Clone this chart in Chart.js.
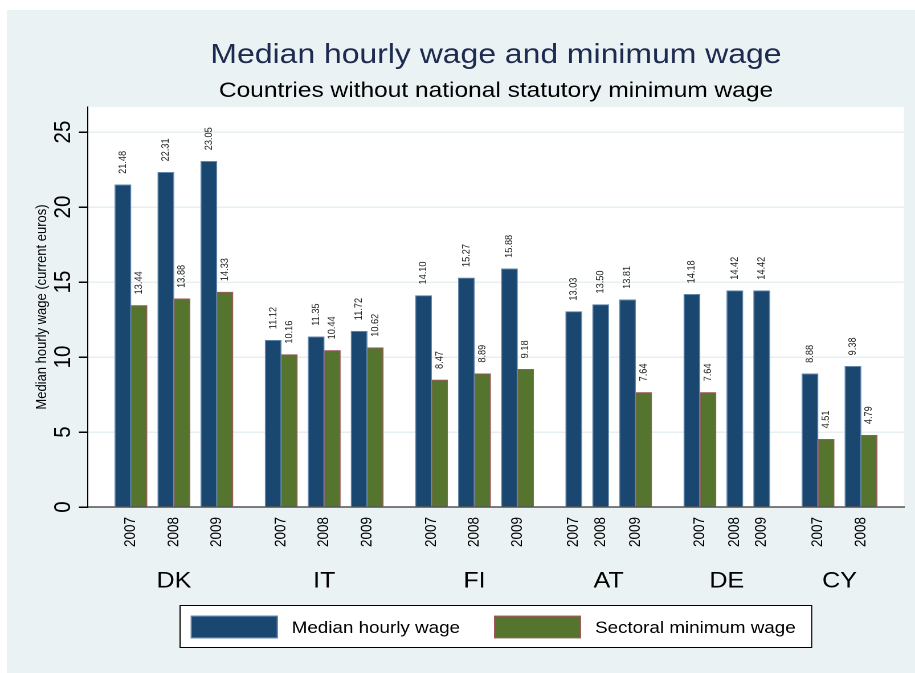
<!DOCTYPE html>
<html>
<head>
<meta charset="utf-8">
<script src="https://cdn.jsdelivr.net/npm/chart.js@4.4.1/dist/chart.umd.min.js"></script>
<style>
  html, body { margin: 0; padding: 0; background: #fff; overflow: hidden; }
  /* the reference is a little wider than tall in its lettering, so stretch the canvas */
  #wrap { width: 803px; height: 673px; transform: scaleX(1.1395); transform-origin: 0 0; }
</style>
</head>
<body>
<div id="wrap"><canvas id="wageChart" width="803" height="673"></canvas></div>
<script>
const countries = ["DK", "IT", "FI", "AT", "DE", "CY"];
const years = ["2007", "2008", "2009"];
const medianWage = [
  [21.48, 22.31, 23.05],
  [11.12, 11.35, 11.72],
  [14.10, 15.27, 15.88],
  [13.03, 13.50, 13.81],
  [14.18, 14.42, 14.42],
  [8.88, 9.38, null]
];
const sectoralWage = [
  [13.44, 13.88, 14.33],
  [10.16, 10.44, 10.62],
  [8.47, 8.89, 9.18],
  [null, null, 7.64],
  [7.64, null, null],
  [4.51, 4.79, null]
];
const yTicks = [0, 5, 10, 15, 20, 25];

const FONT = "'Liberation Sans', Arial, Helvetica, sans-serif";
const PLOT_LEFT = 77.2, PLOT_RIGHT = 793.3, PLOT_TOP = 107, PLOT_BOTTOM = 507;

// Stata style spacing along a linear x axis, 1 unit = one bar
const GAP_YEAR = 0.67, GAP_COUNTRY = 2, EDGE = 1.67;

let groupX = [], groupYear = [], countryX = [];
let medianPts = [], sectoralPts = [];
let cursor = EDGE;
countries.forEach((c, ci) => {
  const start = cursor;
  years.forEach((yr, yi) => {
    const m = medianWage[ci][yi], s = sectoralWage[ci][yi];
    const n = (m != null) + (s != null);
    if (!n) return;
    const x = cursor + n / 2;
    groupX.push(x);
    groupYear.push(yr);
    medianPts.push({ x: x, y: m });
    sectoralPts.push({ x: x, y: s });
    cursor += n + GAP_YEAR;
  });
  cursor -= GAP_YEAR;
  countryX.push((start + cursor) / 2);
  cursor += GAP_COUNTRY;
});
const xMax = cursor - GAP_COUNTRY + EDGE;
const barPx = (PLOT_RIGHT - PLOT_LEFT) / xMax;

const decor = {
  id: "decor",
  beforeDraw(chart) {
    const { ctx, chartArea: a } = chart;
    ctx.save();
    ctx.fillStyle = "#fff";
    ctx.fillRect(0, 0, chart.width, chart.height);
    ctx.fillStyle = "#eaf2f3";
    ctx.fillRect(6, 10, chart.width - 6, chart.height - 10);
    ctx.fillStyle = "#fff";
    ctx.fillRect(a.left, a.top, a.right - a.left, a.bottom - a.top);
    ctx.restore();
  },
  afterDatasetsDraw(chart) {
    // value labels, written upward above each bar
    const ctx = chart.ctx;
    ctx.save();
    ctx.font = "9.2px " + FONT;
    ctx.fillStyle = "#222";
    ctx.textAlign = "left";
    ctx.textBaseline = "middle";
    chart.data.datasets.forEach((ds, di) => {
      chart.getDatasetMeta(di).data.forEach((bar, i) => {
        const v = ds.data[i].y;
        if (v == null) return;
        ctx.save();
        ctx.translate(bar.x, bar.y - 11);
        ctx.rotate(-Math.PI / 2);
        ctx.fillText(v.toFixed(2), 0, 0);
        ctx.restore();
      });
    });
    ctx.restore();
  },
  afterDraw(chart) {
    const { ctx, chartArea: a } = chart;
    const yScale = chart.scales.y;
    ctx.save();

    // y tick labels, rotated like the reference
    ctx.font = "20.5px " + FONT;
    ctx.fillStyle = "#000";
    ctx.textAlign = "center";
    ctx.textBaseline = "alphabetic";
    yTicks.forEach(v => {
      ctx.save();
      ctx.translate(61.4, yScale.getPixelForValue(v));
      ctx.rotate(-Math.PI / 2);
      ctx.fillText(String(v), 0, 0);
      ctx.restore();
    });

    // titles
    const cx = (a.left + a.right) / 2;
    ctx.fillStyle = "#1e2b50";
    ctx.font = "28px " + FONT;
    ctx.fillText("Median hourly wage and minimum wage", cx, 63);
    ctx.fillStyle = "#000";
    ctx.font = "21.5px " + FONT;
    ctx.fillText("Countries without national statutory minimum wage", cx, 97);

    // legend box
    ctx.fillStyle = "#fff";
    ctx.fillRect(158, 605, 554.3, 42);
    ctx.strokeStyle = "#000";
    ctx.lineWidth = 1;
    ctx.strokeRect(158, 605.5, 554.3, 42);
    const items = [
      { ds: chart.data.datasets[0], sx: 167.4, tx: 256 },
      { ds: chart.data.datasets[1], sx: 433.5, tx: 522.2 }
    ];
    ctx.font = "16.5px " + FONT;
    ctx.textAlign = "left";
    items.forEach(it => {
      ctx.fillStyle = it.ds.backgroundColor;
      ctx.fillRect(it.sx, 615.7, 76.4, 22.6);
      ctx.strokeStyle = it.ds.borderColor;
      ctx.strokeRect(it.sx + 0.5, 616.2, 75.4, 21.6);
      ctx.fillStyle = "#000";
      ctx.fillText(it.ds.label, it.tx, 633);
    });
    ctx.restore();
  }
};

new Chart(document.getElementById("wageChart"), {
  type: "bar",
  data: {
    datasets: [
      {
        label: "Median hourly wage",
        data: medianPts,
        backgroundColor: "#1a476f",
        borderColor: "#6488ab",
        borderWidth: 1,
        barThickness: barPx,
        skipNull: true
      },
      {
        label: "Sectoral minimum wage",
        data: sectoralPts,
        backgroundColor: "#55752f",
        borderColor: "#a05a5e",
        borderWidth: 1,
        barThickness: barPx,
        skipNull: true
      }
    ]
  },
  options: {
    responsive: false,
    animation: false,
    devicePixelRatio: 2,
    layout: { padding: { top: PLOT_TOP, left: 0, right: 803 - PLOT_RIGHT, bottom: 76 } },
    plugins: {
      legend: { display: false },
      tooltip: { enabled: false }
    },
    scales: {
      x: {
        type: "linear",
        offset: false,
        min: 0,
        max: xMax,
        weight: 1,
        grid: { display: false, drawTicks: false },
        border: { display: true, color: "#000", width: 1 },
        afterBuildTicks: s => { s.ticks = groupX.map(v => ({ value: v })); },
        afterFit: s => { s.height = 50; },
        ticks: {
          autoSkip: false,
          minRotation: 90,
          maxRotation: 90,
          padding: 10,
          color: "#000",
          font: { family: FONT, size: 13.5 },
          callback: (v, i) => groupYear[i]
        }
      },
      xc: {
        axis: "x",
        type: "linear",
        position: "bottom",
        offset: false,
        min: 0,
        max: xMax,
        weight: 2,
        grid: { display: false, drawTicks: false },
        border: { display: false },
        afterBuildTicks: s => { s.ticks = countryX.map(v => ({ value: v })); },
        afterFit: s => { s.height = 40; },
        ticks: {
          autoSkip: false,
          maxRotation: 0,
          padding: 11,
          color: "#000",
          font: { family: FONT, size: 22 },
          callback: (v, i) => countries[i]
        }
      },
      y: {
        min: 0,
        max: 26.67,
        afterBuildTicks: s => { s.ticks = yTicks.map(v => ({ value: v })); },
        afterFit: s => { s.width = PLOT_LEFT; },
        grid: {
          color: c => (c.tick && c.tick.value === 0 ? "rgba(0,0,0,0)" : "#e6eff2"),
          lineWidth: 1.5,
          tickColor: "#000",
          tickLength: 8
        },
        border: { display: true, color: "#000", width: 1 },
        ticks: { display: false },
        title: {
          display: true,
          text: "Median hourly wage (current euros)",
          color: "#000",
          font: { family: FONT, size: 13 },
          padding: { top: 29, bottom: 0 }
        }
      }
    }
  },
  plugins: [decor]
});
</script>
</body>
</html>
